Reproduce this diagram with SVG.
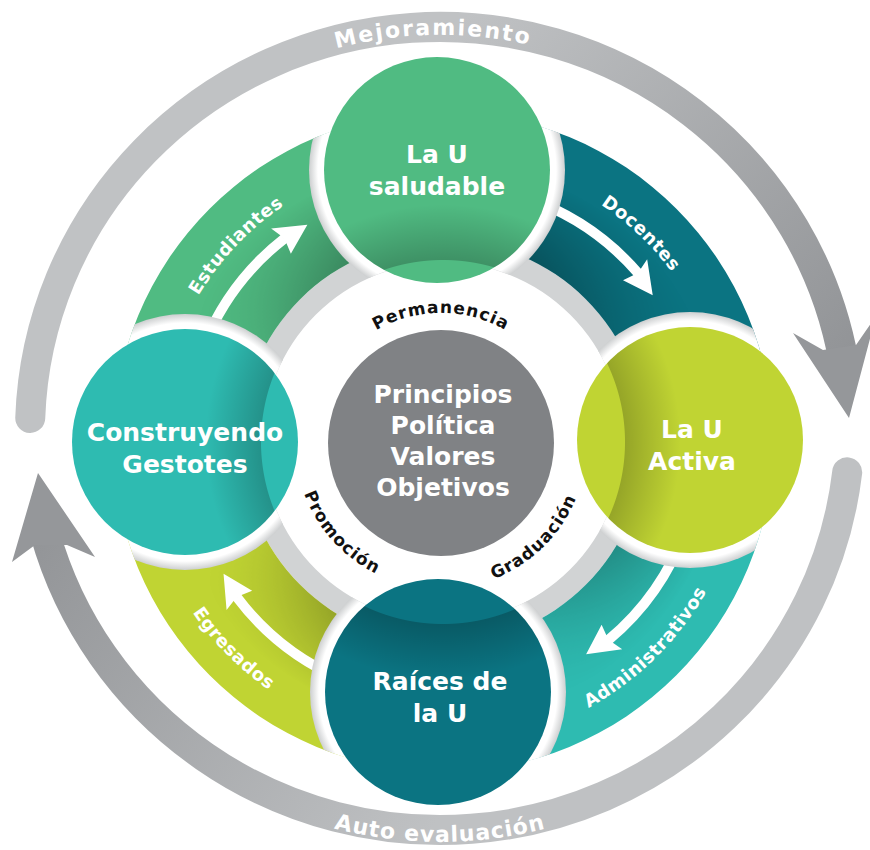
<svg xmlns="http://www.w3.org/2000/svg" width="870" height="850" viewBox="0 0 870 850">
<defs>
<style>
.nodeTxt{font-family:"DejaVu Sans",Verdana,sans-serif;font-weight:bold;font-size:25px;fill:#ffffff;text-anchor:middle}
.segTxt{font-family:"DejaVu Sans",Verdana,sans-serif;font-weight:bold;font-size:18px;fill:#ffffff;letter-spacing:0.5px}
.inTxt{font-family:"DejaVu Sans",Verdana,sans-serif;font-weight:bold;font-size:17px;fill:#111111;letter-spacing:1px}
.outTxt{font-family:"DejaVu Sans",Verdana,sans-serif;font-weight:bold;font-size:22px;fill:#ffffff;letter-spacing:2px}
.arrowShaft{fill:none;stroke:#ffffff;stroke-width:10}
.halo{fill:url(#halo)}
.shade{fill:url(#ringShade)}
</style>
<linearGradient id="topArc" gradientUnits="userSpaceOnUse" x1="480" y1="0" x2="860" y2="340">
<stop offset="0" stop-color="#c0c2c4"/><stop offset="1" stop-color="#929497"/>
</linearGradient>
<linearGradient id="botArc" gradientUnits="userSpaceOnUse" x1="430" y1="830" x2="40" y2="520">
<stop offset="0" stop-color="#bfc1c3"/><stop offset="1" stop-color="#929497"/>
</linearGradient>
<radialGradient id="halo">
<stop offset="0.88" stop-color="#ffffff"/>
<stop offset="0.93" stop-color="#ffffff"/>
<stop offset="1" stop-color="#cdcfd0"/>
</radialGradient>
<radialGradient id="ringShade" gradientUnits="userSpaceOnUse" cx="443" cy="442" r="330">
<stop offset="0.55" stop-color="#000" stop-opacity="0"/>
<stop offset="0.553" stop-color="#000" stop-opacity="0.22"/>
<stop offset="0.72" stop-color="#000" stop-opacity="0"/>
</radialGradient>
<radialGradient id="innerFade" gradientUnits="userSpaceOnUse" cx="443" cy="442" r="330">
<stop offset="0.6" stop-color="#ffffff"/>
<stop offset="0.85" stop-color="#000000"/>
</radialGradient>
<mask id="segMask" maskUnits="userSpaceOnUse" x="0" y="0" width="870" height="850">
<rect x="0" y="0" width="870" height="850" fill="url(#innerFade)"/>
</mask>
<linearGradient id="shEst" gradientUnits="userSpaceOnUse" x1="345" y1="255" x2="220" y2="360">
<stop offset="0" stop-color="#000" stop-opacity="0.28"/><stop offset="1" stop-color="#000" stop-opacity="0"/>
</linearGradient>
<linearGradient id="shDoc" gradientUnits="userSpaceOnUse" x1="540" y1="245" x2="700" y2="385">
<stop offset="0" stop-color="#000" stop-opacity="0.3"/><stop offset="1" stop-color="#000" stop-opacity="0"/>
</linearGradient>
<linearGradient id="shAdm" gradientUnits="userSpaceOnUse" x1="625" y1="555" x2="540" y2="705">
<stop offset="0" stop-color="#000" stop-opacity="0.25"/><stop offset="1" stop-color="#000" stop-opacity="0"/>
</linearGradient>
<linearGradient id="shEgr" gradientUnits="userSpaceOnUse" x1="335" y1="635" x2="215" y2="555">
<stop offset="0" stop-color="#000" stop-opacity="0.25"/><stop offset="1" stop-color="#000" stop-opacity="0"/>
</linearGradient>
<clipPath id="ringClip">
<path clip-rule="evenodd" d="M113 442A330 330 0 1 0 773 442A330 330 0 1 0 113 442ZM263 442A180 180 0 1 1 623 442A180 180 0 1 1 263 442Z"/>
</clipPath>
<path id="topTextArc" d="M59.9 302.7A402 397 0 0 1 815.3 289.7"/>
<path id="botTextArc" d="M43.5 567.6A422 417 0 0 0 836.5 567.6"/>
<path id="cw285" d="M259.8 223.7A285 285 0 0 1 626.2 223.7"/>
<path id="ccw303" d="M248.2 674.1A303 303 0 0 0 637.8 674.1"/>
<path id="cw130" d="M341.4 359.4A130 130 0 0 1 540.6 359.4"/>
<path id="ccw146" d="M314.6 516A146 146 0 0 0 567.4 516"/>
<g id="segArrow">
<path class="arrowShaft" d="M666.4 313A258 258 0 0 1 701 442"/>
<polygon fill="#ffffff" points="696,441 685,438 697.6,468.8 717,438 706,441"/>
</g>
</defs>
<rect x="0" y="0" width="870" height="850" fill="#ffffff"/>

<g id="connectors">
<g id="outer-mejoramiento">
<path d="M30.25 417.9A410 405 0 0 1 843.8 361.7" fill="none" stroke="url(#topArc)" stroke-width="30" stroke-linecap="round"/>
<polygon fill="#95979a" points="823,350 793,333 849,418 876,316 856,345"/>
<text class="outTxt" text-anchor="middle"><textPath href="#topTextArc" startOffset="50%">Mejoramiento</textPath></text>
</g>
<g id="outer-autoevaluacion">
<path d="M847.2 472.3A410 405 0 0 1 44.9 533.2" fill="none" stroke="url(#botArc)" stroke-width="30" stroke-linecap="round"/>
<polygon fill="#95979a" points="67,545 95,557 38,473 12,562 35,545"/>
<text class="outTxt" text-anchor="middle" style="letter-spacing:1px"><textPath href="#botTextArc" startOffset="50%">Auto evaluación</textPath></text>
</g>
<circle cx="443" cy="442" r="191" fill="none" stroke="#d1d3d4" stroke-width="22"/>
<g id="seg-estudiantes">
<path d="M113 442A330 330 0 0 1 443 112L443 240A202 202 0 0 0 241 442Z" fill="#50bb82"/>
<path d="M113 442A330 330 0 0 1 443 112L443 240A202 202 0 0 0 241 442Z" fill="url(#shEst)" mask="url(#segMask)"/>
<use href="#segArrow" transform="rotate(232 443 442)"/>
<text class="segTxt" text-anchor="middle" transform="rotate(-46.5 443 442)"><textPath href="#cw285" startOffset="50%">Estudiantes</textPath></text>
</g>
<g id="seg-docentes">
<path d="M443 112A330 330 0 0 1 773 442L645 442A202 202 0 0 0 443 240Z" fill="#0b7482"/>
<path d="M443 112A330 330 0 0 1 773 442L645 442A202 202 0 0 0 443 240Z" fill="url(#shDoc)" mask="url(#segMask)"/>
<use href="#segArrow" transform="rotate(319 443 442)"/>
<text class="segTxt" text-anchor="middle" transform="rotate(43.5 443 442)"><textPath href="#cw285" startOffset="50%">Docentes</textPath></text>
</g>
<g id="seg-administrativos">
<path d="M773 442A330 330 0 0 1 443 772L443 644A202 202 0 0 0 645 442Z" fill="#2ebbb1"/>
<path d="M773 442A330 330 0 0 1 443 772L443 644A202 202 0 0 0 645 442Z" fill="url(#shAdm)" mask="url(#segMask)"/>
<use href="#segArrow" transform="rotate(50 443 442)"/>
<text class="segTxt" text-anchor="middle" transform="rotate(-44.6 443 442)"><textPath href="#ccw303" startOffset="50%">Administrativos</textPath></text>
</g>
<g id="seg-egresados">
<path d="M443 772A330 330 0 0 1 113 442L241 442A202 202 0 0 0 443 644Z" fill="#c0d433"/>
<path d="M443 772A330 330 0 0 1 113 442L241 442A202 202 0 0 0 443 644Z" fill="url(#shEgr)" mask="url(#segMask)"/>
<use href="#segArrow" transform="rotate(143 443 442)"/>
<text class="segTxt" text-anchor="middle" transform="rotate(45.4 443 442)"><textPath href="#ccw303" startOffset="50%">Egresados</textPath></text>
</g>
</g>

<g id="node-saludable">
<circle class="halo" cx="437" cy="170" r="128" clip-path="url(#ringClip)"/>
<circle cx="437" cy="170" r="113" fill="#50bb82"/>
<circle class="shade" cx="437" cy="170" r="113"/>
<text class="nodeTxt" x="437" y="163">La U</text>
<text class="nodeTxt" x="437" y="195">saludable</text>
</g>
<g id="node-activa">
<circle class="halo" cx="690" cy="440" r="128" clip-path="url(#ringClip)"/>
<circle cx="690" cy="440" r="113" fill="#c0d433"/>
<circle class="shade" cx="690" cy="440" r="113"/>
<text class="nodeTxt" x="692" y="438">La U</text>
<text class="nodeTxt" x="692" y="470">Activa</text>
</g>
<g id="node-raices">
<circle class="halo" cx="438" cy="692" r="128" clip-path="url(#ringClip)"/>
<circle cx="438" cy="692" r="113" fill="#0b7482"/>
<circle class="shade" cx="438" cy="692" r="113"/>
<text class="nodeTxt" x="440" y="690">Raíces de</text>
<text class="nodeTxt" x="440" y="722">la U</text>
</g>
<g id="node-construyendo">
<circle class="halo" cx="185" cy="442" r="128" clip-path="url(#ringClip)"/>
<circle cx="185" cy="442" r="113" fill="#2ebbb1"/>
<circle class="shade" cx="185" cy="442" r="113"/>
<text class="nodeTxt" x="185" y="441">Construyendo</text>
<text class="nodeTxt" x="185" y="473">Gestotes</text>
</g>
<g id="node-centro">
<circle cx="441" cy="443" r="113" fill="#808285"/>
<text class="nodeTxt" x="443" y="403">Principios</text>
<text class="nodeTxt" x="443" y="434">Política</text>
<text class="nodeTxt" x="443" y="465">Valores</text>
<text class="nodeTxt" x="443" y="496">Objetivos</text>
</g>
<g id="inner-labels">
<text class="inTxt" text-anchor="middle"><textPath href="#cw130" startOffset="50%">Permanencia</textPath></text>
<text class="inTxt" text-anchor="middle" transform="rotate(48 441 443)"><textPath href="#ccw146" startOffset="50%">Promoción</textPath></text>
<text class="inTxt" text-anchor="middle" transform="rotate(-44.6 441 443)"><textPath href="#ccw146" startOffset="50%">Graduación</textPath></text>
</g>
</svg>
